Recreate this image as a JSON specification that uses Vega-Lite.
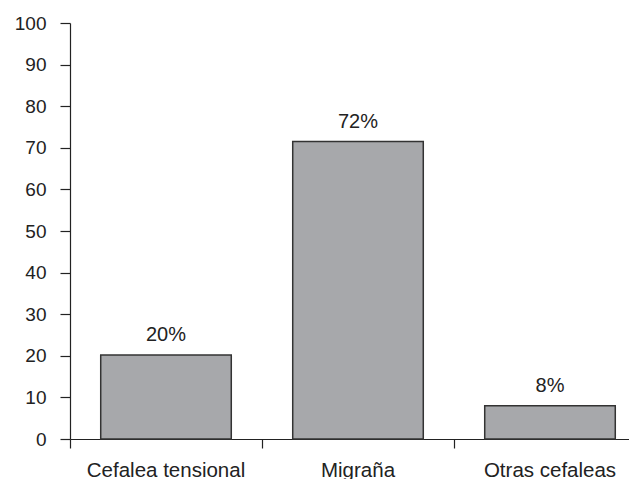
{
  "$schema": "https://vega.github.io/schema/vega-lite/v6.json",
  "autosize": {"type": "none"},
  "width": 559,
  "height": 416,
  "padding": {"left": 70, "top": 23, "right": 0, "bottom": 40},
  "background": "white",
  "config": {"view": {"stroke": null}, "font": "Liberation Sans"},
  "data": {"values": [
    {"category": "Cefalea tensional", "value": 20.2, "label": "20%"},
    {"category": "Migraña", "value": 71.5, "label": "72%"},
    {"category": "Otras cefaleas", "value": 8, "label": "8%"}
  ]},
  "encoding": {
    "x": {
      "field": "category", "type": "nominal", "sort": null,
      "scale": {"range": [0, 576], "paddingInner": 0, "paddingOuter": 0},
      "axis": {
        "title": null, "labelAngle": 0, "bandPosition": 0,
        "labelFontSize": 20.5, "labelColor": "#222", "labelPadding": 12,
        "domainColor": "#222", "domainWidth": 1.2, "tickColor": "#222", "tickWidth": 1.2, "tickSize": 9,
        "labelFont": "Liberation Sans"
      }
    },
    "y": {
      "field": "value", "type": "quantitative",
      "scale": {"domain": [0, 100], "nice": false},
      "axis": {
        "title": null, "values": [0,10,20,30,40,50,60,70,80,90,100], "grid": false,
        "labelFontSize": 19, "labelColor": "#222", "labelPadding": 14,
        "domainColor": "#222", "domainWidth": 1.2, "tickColor": "#222", "tickWidth": 1.2, "tickSize": 10,
        "labelFont": "Liberation Sans"
      }
    }
  },
  "layer": [
    {"mark": {"type": "bar", "width": {"band": 0.68}, "fill": "#a7a8ab", "stroke": "#333", "strokeWidth": 1.5}},
    {"mark": {"type": "text", "baseline": "alphabetic", "dy": -14, "fontSize": 20, "color": "#222", "font": "Liberation Sans"},
     "encoding": {"text": {"field": "label"}}}
  ]
}
